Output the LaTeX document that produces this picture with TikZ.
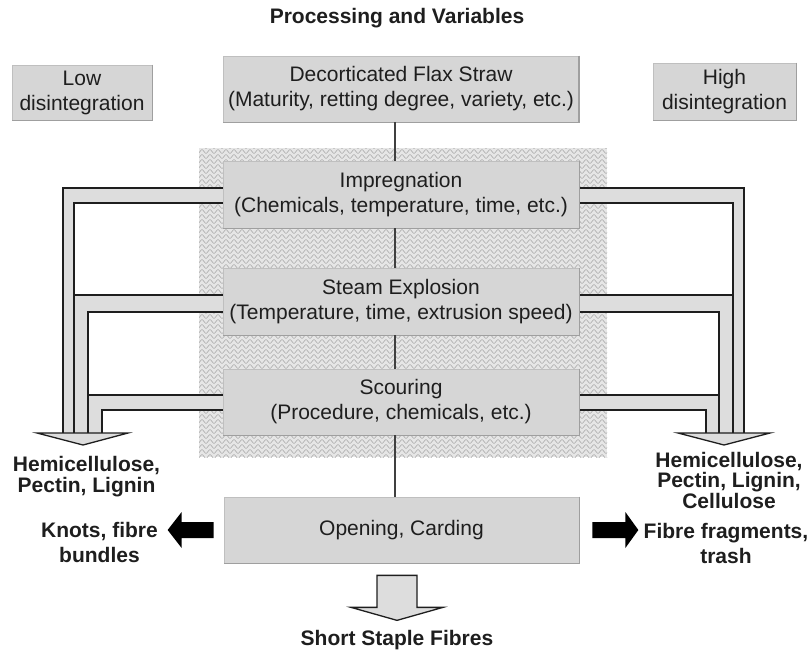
\documentclass[tikz,border=0pt]{standalone}
\usepackage{fontspec}
\setmainfont{Liberation Sans}
\usetikzlibrary{patterns,calc}
\definecolor{boxfill}{HTML}{D6D6D6}
\definecolor{pipefill}{HTML}{DDDDDD}
\definecolor{txt}{HTML}{1E1E1E}
\definecolor{hatchbase}{HTML}{E6E6E6}
\definecolor{hatchline}{HTML}{A8A8A8}
\pgfdeclarepatternformonly{wavy}{\pgfpoint{-1pt}{-1pt}}{\pgfpoint{9pt}{6pt}}{\pgfpoint{8pt}{5pt}}{%
  \pgfsetlinewidth{0.55pt}%
  \pgfpathmoveto{\pgfpoint{0pt}{2.5pt}}%
  \pgfpathcurveto{\pgfpoint{2pt}{5pt}}{\pgfpoint{2pt}{5pt}}{\pgfpoint{4pt}{2.5pt}}%
  \pgfpathcurveto{\pgfpoint{6pt}{0pt}}{\pgfpoint{6pt}{0pt}}{\pgfpoint{8pt}{2.5pt}}%
  \pgfusepath{stroke}}
\tikzset{
  procbox/.style={draw=gray!50, line width=0.7pt, fill=boxfill, inner sep=0pt,
    align=center, text=txt, font=\fontsize{21}{25}\selectfont},
  boldlabel/.style={inner sep=0pt, align=center, text=txt, anchor=north},
  pipeline/.style={draw=txt, line width=1.3pt},
  connector/.style={draw=black!75, line width=1.3pt},
  shadowline/.style={draw=gray!75, line width=1.6pt}
}
\begin{document}
\begin{tikzpicture}[x=1pt,y=-1pt]
\useasboundingbox (0,0) rectangle (810,649);
% textured background
\fill[hatchbase] (199,148) rectangle (607,457);
\fill[pattern=wavy, pattern color=hatchline] (199,148) rectangle (607,457);
% left pipes
\fill[pipefill] (223,188) -- (63,188) -- (63,433) -- (102,433) -- (102,410) -- (223,410)
  -- (223,395) -- (88,395) -- (88,312) -- (223,312) -- (223,295) -- (74,295) -- (74,203)
  -- (223,203) -- cycle;
\draw[pipeline] (223,188) -- (63,188) -- (63,433);
\draw[pipeline] (223,203) -- (74,203) -- (74,433);
\draw[pipeline] (223,295) -- (74,295);
\draw[pipeline] (223,312) -- (88,312) -- (88,433);
\draw[pipeline] (223,395) -- (88,395);
\draw[pipeline] (223,410) -- (102,410) -- (102,433);
\draw[pipeline, fill=pipefill, line join=miter] (37,433) -- (128,433) -- (83,445) -- cycle;
% right pipes
\fill[pipefill] (579,188) -- (744,188) -- (744,433) -- (706,433) -- (706,410) -- (579,410)
  -- (579,395) -- (719,395) -- (719,312) -- (579,312) -- (579,295) -- (733,295) -- (733,203)
  -- (579,203) -- cycle;
\draw[pipeline] (579,188) -- (744,188) -- (744,433);
\draw[pipeline] (579,203) -- (733,203) -- (733,433);
\draw[pipeline] (579,295) -- (733,295);
\draw[pipeline] (579,312) -- (719,312) -- (719,433);
\draw[pipeline] (579,395) -- (719,395);
\draw[pipeline] (579,410) -- (706,410) -- (706,433);
\draw[pipeline, fill=pipefill, line join=miter] (678,433) -- (770,433) -- (724,445) -- cycle;
% title
\node[boldlabel, font=\fontsize{21}{25}\selectfont\bfseries] (title) at (397,8) {Processing and Variables};
% boxes
\node[procbox, minimum width=140, minimum height=55] (low) at (82,92.5) {Low\\disintegration};
\node[procbox, minimum width=143, minimum height=57] (high) at (724.5,91.5) {High\\disintegration};
\node[procbox, minimum width=355, minimum height=66] (dec) at (401,89) {Decorticated Flax Straw\\(Maturity, retting degree, variety, etc.)};
\node[procbox, minimum width=356, minimum height=67] (imp) at (401,194.5) {Impregnation\\(Chemicals, temperature, time, etc.)};
\node[procbox, minimum width=356, minimum height=67] (steam) at (401,301.5) {Steam Explosion\\(Temperature, time, extrusion speed)};
\node[procbox, minimum width=356, minimum height=66] (scour) at (401,402) {Scouring\\(Procedure, chemicals, etc.)};
\node[procbox, minimum width=355, minimum height=66] (open) at (401.5,530) {Opening, Carding};
\foreach \n in {low,high,dec,imp,steam,scour,open}{
  \draw[shadowline] (\n.north east) -- (\n.south east) -- (\n.south west);
}
% vertical connectors
\coordinate (lx) at (395,0);
\draw[connector] (dec.south -| lx) -- (imp.north -| lx);
\draw[connector] (imp.south -| lx) -- (steam.north -| lx);
\draw[connector] (steam.south -| lx) -- (scour.north -| lx);
\draw[connector] (scour.south -| lx) -- (open.north -| lx);
% labels
\node[boldlabel, font=\fontsize{21}{21}\selectfont\bfseries] (hemil) at (86.5,456) {Hemicellulose,\\Pectin, Lignin};
\node[boldlabel, font=\fontsize{21}{20.5}\selectfont\bfseries] (hemir) at (729,452) {Hemicellulose,\\Pectin, Lignin,\\Cellulose};
\node[boldlabel, font=\fontsize{21}{25}\selectfont\bfseries] (knots) at (99.5,522) {Knots, fibre\\bundles};
\node[boldlabel, font=\fontsize{21}{25}\selectfont\bfseries] (frag) at (726,523) {Fibre fragments,\\trash};
\node[boldlabel, font=\fontsize{21}{25}\selectfont\bfseries] (staple) at (397,630) {Short Staple Fibres};
% black arrows
\coordinate (la) at ($(open.west)+(-10,0)$);
\fill[black] (la) ++(0,-8) -- ++(-32,0) -- ++(0,-10) -- ++(-14,18) -- ++(14,18) -- ++(0,-10) -- ++(32,0) -- cycle;
\coordinate (ra) at ($(open.east)+(13,0)$);
\fill[black] (ra) ++(0,-8) -- ++(33,0) -- ++(0,-10) -- ++(13,18) -- ++(-13,18) -- ++(0,-10) -- ++(-33,0) -- cycle;
% short staple arrow
\coordinate (sa) at ($(open.south -| staple.north)+(0,12)$);
\draw[pipeline, fill=pipefill, line join=miter] (sa) ++(-20,0) -- ++(40,0) -- ++(0,32) -- ++(26,0) -- ++(-46,13) -- ++(-46,-13) -- ++(26,0) -- cycle;
\end{tikzpicture}
\end{document}
